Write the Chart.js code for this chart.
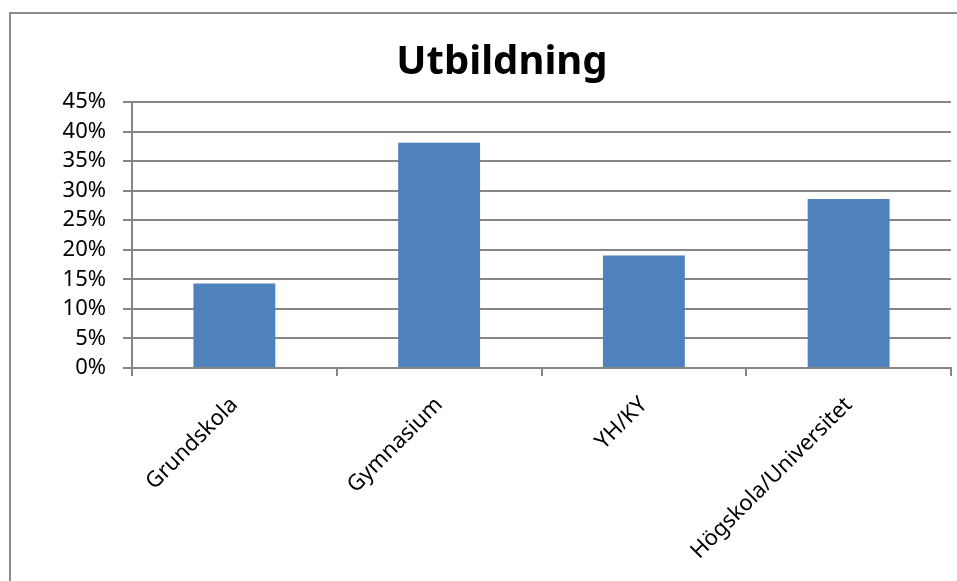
<!DOCTYPE html>
<html>
<head>
<meta charset="utf-8">
<script src="https://cdn.jsdelivr.net/npm/chart.js@4"></script>
<style>
html, body { margin: 0; padding: 0; background: #fff; overflow: hidden; }
#box {
  position: absolute; left: 9px; top: 12px;
  border-left: 2px solid #8c8c8c; border-top: 2px solid #8c8c8c;
  width: 982px; height: 568px;
}
</style>
</head>
<body>
<div id="box"><canvas id="graph" width="982" height="568"></canvas></div>
<script>
// utbildning, andel i procent
var categories = ["Grundskola", "Gymnasium", "YH/KY", "Högskola/Universitet"]
var values = [14.29, 38.10, 19.05, 28.57]
var yTicks = [0, 5, 10, 15, 20, 25, 30, 35, 40, 45]

var gridColor = '#868686'

new Chart(document.getElementById('graph'), {
  type: 'bar',
  data: {
    labels: categories,
    datasets: [{
      label: 'Utbildning',
      data: values,
      backgroundColor: '#4F81BD',
      categoryPercentage: 0.4,
      barPercentage: 1.0
    }]
  },
  options: {
    responsive: false,
    animation: false,
    layout: { padding: 0 },
    plugins: {
      legend: { display: false },
      tooltip: { enabled: false },
      title: {
        display: true,
        text: 'Utbildning',
        color: '#000',
        font: { family: 'Noto Sans', size: 40, weight: 'bold', lineHeight: 1.2 },
        padding: { top: 25, bottom: 15 }
      }
    },
    scales: {
      x: {
        grid: { offset: true, drawOnChartArea: false, drawTicks: true, tickLength: 8, color: gridColor, lineWidth: 2 },
        border: { display: true, color: gridColor, width: 2 },
        ticks: {
          color: '#000',
          font: { family: 'Noto Sans', size: 22 },
          maxRotation: 45, minRotation: 45,
          padding: 16
        },
        afterFit: function (scale) { scale.height = 214 }
      },
      y: {
        min: 0, max: 45,
        afterBuildTicks: function (scale) {
          scale.ticks = yTicks.map(function (v) { return { value: v } })
        },
        grid: { color: gridColor, lineWidth: 2, tickLength: 9 },
        border: { display: true, color: gridColor, width: 2 },
        ticks: {
          color: '#000',
          font: { family: 'Noto Sans', size: 22 },
          padding: 17,
          callback: function (v) { return v + '%' }
        },
        afterFit: function (scale) { scale.width = 121 }
      },
      // empty right side so the title stays centred on the whole frame
      y2: {
        position: 'right',
        min: 0, max: 45,
        grid: { drawOnChartArea: false, drawTicks: false },
        border: { display: false },
        ticks: { display: false },
        afterFit: function (scale) { scale.width = 42 }
      }
    }
  }
})
</script>
</body>
</html>
